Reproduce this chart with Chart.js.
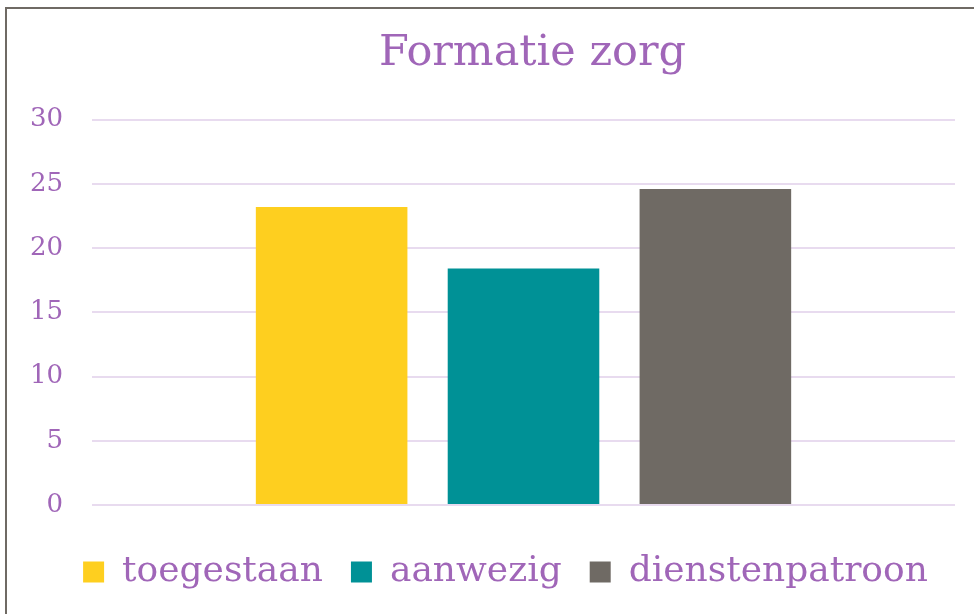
<!DOCTYPE html>
<html>
<head>
<meta charset="utf-8">
<script src="https://cdn.jsdelivr.net/npm/chart.js@4.4.1/dist/chart.umd.min.js"></script>
<style>
  html, body { margin: 0; padding: 0; background: #fff; overflow: hidden; }
  .frame {
    position: absolute; left: 5px; top: 7px; width: 1000px; height: 640px;
    border: 2px solid #6f6a64; box-sizing: border-box;
  }
  .chart-wrap { position: absolute; left: 8px; top: 10px; width: 966px; height: 604px; }
</style>
</head>
<body>
<div class="frame"></div>
<div class="chart-wrap"><canvas id="chart"></canvas></div>
<script>
var categories = [''];
var seriesNames = ['toegestaan', 'aanwezig', 'dienstenpatroon'];
var toegestaan = [23.2];
var aanwezig = [18.4];
var dienstenpatroon = [24.6];
var yTicks = [0, 5, 10, 15, 20, 25, 30];

var purple = '#a066b8';
var colors = ['#fecf1f', '#009196', '#6f6a64'];
var font = '"DejaVu Serif", "Liberation Serif", Georgia, serif';

var values = [toegestaan, aanwezig, dienstenpatroon];
var datasets = [];
for (var i = 0; i < seriesNames.length; i++) {
  datasets.push({
    label: seriesNames[i],
    data: values[i],
    backgroundColor: colors[i],
    borderWidth: 0,
    categoryPercentage: 0.667,
    barPercentage: 0.79
  });
}

// title and legend sit a bit right of the middle in the original
var shiftBlocks = {
  id: 'shiftBlocks',
  afterLayout: function(chart) {
    if (chart.titleBlock) {
      chart.titleBlock.left += 51;
      chart.titleBlock.right += 51;
    }
    if (chart.legend) {
      chart.legend.left += 24;
      chart.legend.right += 24;
    }
  }
};

var ctx = document.getElementById('chart').getContext('2d');
new Chart(ctx, {
  type: 'bar',
  data: { labels: categories, datasets: datasets },
  plugins: [shiftBlocks],
  options: {
    responsive: true,
    maintainAspectRatio: false,
    animation: false,
    layout: { padding: { left: 0, right: 19, top: 0, bottom: 14 } },
    plugins: {
      title: {
        display: true,
        text: 'Formatie zorg',
        color: purple,
        font: { family: font, size: 43, weight: 'normal' },
        padding: { top: 18, bottom: 40 }
      },
      legend: {
        position: 'bottom',
        labels: {
          color: purple,
          font: { family: font, size: 36 },
          boxWidth: 21,
          boxHeight: 21,
          padding: 28
        }
      },
      tooltip: { enabled: false }
    },
    scales: {
      x: {
        grid: { display: false },
        border: { display: false },
        ticks: { display: false },
        afterFit: function(axis) { axis.height = 21; }
      },
      y: {
        min: 0,
        max: 30,
        afterBuildTicks: function(axis) {
          axis.ticks = yTicks.map(function(v) { return { value: v }; });
        },
        afterFit: function(axis) { axis.width = 84; },
        grid: { color: '#e8dbef', lineWidth: 2, drawTicks: false },
        border: { display: false },
        ticks: {
          color: purple,
          font: { family: font, size: 26 },
          padding: 29
        }
      }
    }
  }
});
</script>
</body>
</html>
